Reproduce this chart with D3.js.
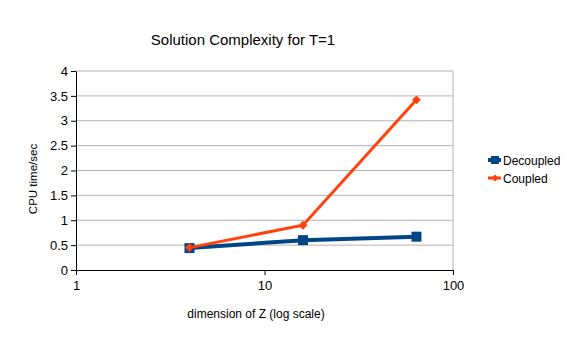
<!DOCTYPE html>
<html>
<head>
<meta charset="utf-8">
<script src="https://cdn.jsdelivr.net/npm/d3@7"></script>
<style>
  body { margin: 0; background: #fff; }
  svg { font-family: "Liberation Sans", Arial, sans-serif; }
</style>
</head>
<body>
<script>
const dims = [4, 16, 64];
const decoupled = [0.44, 0.6, 0.67];
const coupled = [0.45, 0.9, 3.42];
const seriesNames = ['Decoupled', 'Coupled'];
const yTicks = [0, 0.5, 1, 1.5, 2, 2.5, 3, 3.5, 4];
const xTicks = [1, 10, 100];

const width = 574, height = 341;
const margin = {top: 71, right: 121, bottom: 71, left: 76};

const svg = d3.select('body').append('svg')
  .attr('width', width)
  .attr('height', height);

const x = d3.scaleLog()
  .domain([1, 100])
  .range([margin.left, width - margin.right]);

const y = d3.scaleLinear()
  .domain([0, 4])
  .range([height - margin.bottom, margin.top]);

// 网格线
svg.append('g')
  .selectAll('line')
  .data(yTicks.slice(1))
  .join('line')
  .attr('x1', margin.left)
  .attr('x2', width - margin.right)
  .attr('y1', d => y(d))
  .attr('y2', d => y(d))
  .attr('stroke', '#b3b3b3')
  .attr('stroke-width', 1);

// 右边框
svg.append('line')
  .attr('x1', width - margin.right)
  .attr('x2', width - margin.right)
  .attr('y1', y(0))
  .attr('y2', y(4))
  .attr('stroke', '#b3b3b3');

// 坐标轴
svg.append('g')
  .attr('transform', `translate(${margin.left},0)`)
  .call(d3.axisLeft(y).tickValues(yTicks).tickSize(5).tickSizeOuter(0).tickPadding(3)
    .tickFormat(d3.format('')))
  .call(g => g.select('.domain').attr('stroke', '#000'))
  .call(g => g.selectAll('text').style('font-size', '13px').attr('fill', '#000'));

svg.append('g')
  .attr('transform', `translate(0,${y(0)})`)
  .call(d3.axisBottom(x).tickValues(xTicks).tickSize(5).tickSizeOuter(0).tickPadding(6)
    .tickFormat(d3.format('')))
  .call(g => g.select('.domain').attr('stroke', '#000'))
  .call(g => g.selectAll('text').style('font-size', '13px').attr('fill', '#000'));

// 折线
const line = d3.line()
  .x((d, i) => x(dims[i]))
  .y(d => y(d));

svg.append('path')
  .datum(decoupled)
  .attr('d', line)
  .attr('fill', 'none')
  .attr('stroke', '#004586')
  .attr('stroke-width', 4);

svg.append('g')
  .selectAll('rect')
  .data(decoupled)
  .join('rect')
  .attr('x', (d, i) => x(dims[i]) - 5)
  .attr('y', d => y(d) - 5)
  .attr('width', 10)
  .attr('height', 10)
  .attr('fill', '#004586');

svg.append('path')
  .datum(coupled)
  .attr('d', line)
  .attr('fill', 'none')
  .attr('stroke', '#ff420e')
  .attr('stroke-width', 3);

svg.append('g')
  .selectAll('path')
  .data(coupled)
  .join('path')
  .attr('d', d3.symbol(d3.symbolSquare, 40))
  .attr('transform', (d, i) => `translate(${x(dims[i])},${y(d)}) rotate(45)`)
  .attr('fill', '#ff420e');

// 图例
const legend = svg.append('g').attr('transform', 'translate(488,160)');
const colors = ['#004586', '#ff420e'];
seriesNames.forEach((name, i) => {
  const g = legend.append('g').attr('transform', `translate(0,${i * 18})`);
  g.append('line')
    .attr('x1', 0).attr('x2', 13)
    .attr('stroke', colors[i])
    .attr('stroke-width', i === 0 ? 4 : 3);
  if (i === 0) {
    g.append('rect').attr('x', 3).attr('y', -4).attr('width', 8).attr('height', 8).attr('fill', colors[i]);
  } else {
    g.append('path').attr('d', d3.symbol(d3.symbolSquare, 26)).attr('transform', 'translate(7,0) rotate(45)').attr('fill', colors[i]);
  }
  g.append('text')
    .attr('x', 15)
    .attr('y', 5)
    .style('font-size', '12px')
    .text(name);
});

// 标题
svg.append('text')
  .attr('x', 243)
  .attr('y', 45)
  .attr('text-anchor', 'middle')
  .style('font-size', '15px')
  .text('Solution Complexity for T=1');

svg.append('text')
  .attr('x', 256)
  .attr('y', 318)
  .attr('text-anchor', 'middle')
  .style('font-size', '12px')
  .text('dimension of Z (log scale)');

svg.append('text')
  .attr('transform', 'translate(37,179) rotate(-90)')
  .attr('text-anchor', 'middle')
  .style('font-size', '11.5px')
  .text('CPU time/sec');
</script>
</body>
</html>
